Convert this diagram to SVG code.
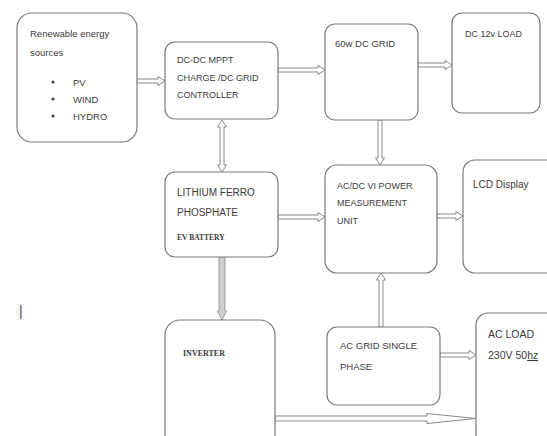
<svg xmlns="http://www.w3.org/2000/svg" width="547" height="436" viewBox="0 0 547 436">
<style>
.box{fill:#fff;stroke:#7a7a7a;stroke-width:1.2}
.t{font-family:"Liberation Sans",Arial,sans-serif;fill:#3c3c3c}
.b{font-family:"Liberation Serif","Times New Roman",serif;font-weight:bold;fill:#3c3c3c}
.arr{fill:#fff;stroke:#8a8a8a;stroke-width:1}
.thick{fill:#cfcfcf;stroke:#9a9a9a;stroke-width:1}
</style>
<rect width="547" height="436" fill="#fff"/>
<g id="connectors">
<path class="arr" d="M137,79 H158 V76.5 L165,81 L158,85.5 V83 H137 Z"/>
<path class="arr" d="M278,68 H318 V65.5 L325,70 L318,74.5 V72 H278 Z"/>
<path class="arr" d="M418,63 H445 V60.5 L452,65 L445,69.5 V67 H418 Z"/>
<path class="arr" d="M378,120 V158 H375.5 L380,165 L384.5,158 H382 V120 Z"/>
<path class="arr" d="M220,127 H217.5 L222,120 L226.5,127 H224 V165 H226.5 L222,172 L217.5,165 H220 Z"/>
<path class="arr" d="M278,215 H318 V212.5 L325,217 L318,221.5 V219 H278 Z"/>
<path class="arr" d="M437,214 H456 V211.5 L463,216 L456,220.5 V218 H437 Z"/>
<path class="thick" d="M219,257 V311 H217.5 L222,320 L226.5,311 H225 V257 Z"/>
<path class="arr" d="M383,327 V280 H385.5 L381,273 L376.5,280 H379 V327 Z"/>
<path class="arr" d="M440,353 H469 V350.5 L476,355 L469,359.5 V357 H440 Z"/>
<path class="arr" d="M275,416 H427 V413.5 L476,418.5 L427,423.5 V421 H275 Z"/>
</g>
<g id="renewable">
<rect class="box" x="17" y="13" width="120" height="129" rx="15"/>
<text class="t" x="30" y="37" font-size="9.5">Renewable energy</text>
<text class="t" x="30" y="56" font-size="9.5">sources</text>
<circle cx="53" cy="82" r="1.6" fill="#444"/>
<circle cx="53" cy="99" r="1.6" fill="#444"/>
<circle cx="53" cy="116" r="1.6" fill="#444"/>
<text class="t" x="73" y="86" font-size="9.5">PV</text>
<text class="t" x="73" y="103" font-size="9.5">WIND</text>
<text class="t" x="73" y="120" font-size="9.5">HYDRO</text>
</g>
<g id="mppt">
<rect class="box" x="165" y="42" width="113" height="77" rx="10"/>
<text class="t" x="177" y="63" font-size="9">DC-DC MPPT</text>
<text class="t" x="177" y="81" font-size="9">CHARGE /DC GRID</text>
<text class="t" x="177" y="98" font-size="9">CONTROLLER</text>
</g>
<g id="dcgrid">
<rect class="box" x="325" y="24" width="93" height="96" rx="10"/>
<text class="t" x="335" y="47" font-size="9.5">60w DC GRID</text>
</g>
<g id="dcload">
<rect class="box" x="452" y="13" width="88" height="100" rx="10"/>
<text class="t" x="465" y="37" font-size="9">DC 12v LOAD</text>
</g>
<g id="battery">
<rect class="box" x="165" y="172" width="113" height="85" rx="10"/>
<text class="t" x="177" y="196" font-size="10">LITHIUM FERRO</text>
<text class="t" x="177" y="216" font-size="10">PHOSPHATE</text>
<text class="b" x="177" y="240" font-size="7.5">EV BATTERY</text>
</g>
<g id="measurement">
<rect class="box" x="325" y="165" width="112" height="108" rx="12"/>
<text class="t" x="337" y="189" font-size="9">AC/DC VI POWER</text>
<text class="t" x="337" y="206" font-size="9">MEASUREMENT</text>
<text class="t" x="337" y="224" font-size="9">UNIT</text>
</g>
<g id="lcd">
<rect class="box" x="463" y="160" width="100" height="113" rx="12"/>
<text class="t" x="473" y="188" font-size="10">LCD Display</text>
</g>
<g id="inverter">
<rect class="box" x="165" y="320" width="110" height="140" rx="15"/>
<text class="b" x="183" y="356" font-size="8">INVERTER</text>
</g>
<g id="acgrid">
<rect class="box" x="327" y="327" width="113" height="78" rx="10"/>
<text class="t" x="340" y="349" font-size="9.5">AC GRID SINGLE</text>
<text class="t" x="340" y="370" font-size="9.5">PHASE</text>
</g>
<g id="acload">
<rect class="box" x="476" y="313" width="90" height="140" rx="12"/>
<text class="t" x="488" y="338" font-size="10.5">AC LOAD</text>
<text class="t" x="488" y="359" font-size="10.5">230V 50<tspan text-decoration="underline">hz</tspan></text>
</g>
<text class="t" x="19" y="316" font-size="14">|</text>
</svg>
